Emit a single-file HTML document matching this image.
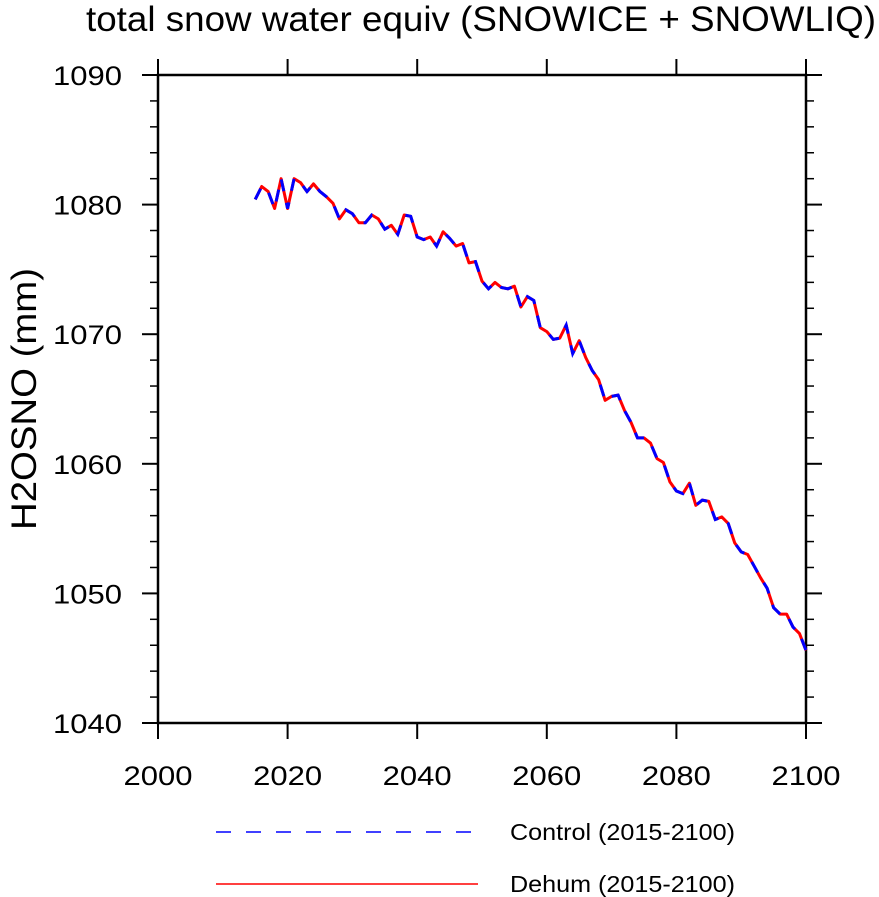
<!DOCTYPE html>
<html><head><meta charset="utf-8"><style>
html,body{margin:0;padding:0;background:#fff;}
svg{display:block;font-family:"Liberation Sans",Arial,sans-serif;}
</style></head><body>
<svg id="chart" width="879" height="897" viewBox="0 0 879 897">
<text x="86" y="31" font-size="35" textLength="790" lengthAdjust="spacingAndGlyphs">total snow water equiv (SNOWICE + SNOWLIQ)</text>
<text transform="translate(36,399) rotate(-90)" text-anchor="middle" font-size="35" textLength="262" lengthAdjust="spacingAndGlyphs">H2OSNO  (mm)</text>
<g id="axes"></g>
<g id="series"></g>
<g>
<line x1="216" y1="832" x2="478" y2="832" stroke="#0000ff" stroke-width="1.5" stroke-dasharray="15,15"/>
<text x="510" y="840" font-size="23" textLength="225" lengthAdjust="spacingAndGlyphs">Control (2015-2100)</text>
<line x1="216" y1="884" x2="478" y2="884" stroke="#ff0000" stroke-width="1.5"/>
<text x="510" y="892" font-size="23" textLength="225" lengthAdjust="spacingAndGlyphs">Dehum (2015-2100)</text>
</g>
</svg>
<script>
const years = [];
for (let y = 2015; y <= 2100; y++) years.push(y);
const controlValues = [1080.4,1081.4,1081.0,1079.7,1082.0,1079.7,1082.0,1081.7,1081.0,1081.6,
1081.0,1080.6,1080.1,1078.9,1079.6,1079.3,1078.6,1078.6,1079.2,1078.9,
1078.1,1078.4,1077.7,1079.2,1079.1,1077.5,1077.3,1077.5,1076.8,1077.9,
1077.4,1076.8,1077.0,1075.5,1075.6,1074.1,1073.5,1074.0,1073.6,1073.5,
1073.7,1072.1,1072.9,1072.6,1070.5,1070.2,1069.6,1069.7,1070.7,1068.5,
1069.5,1068.2,1067.2,1066.5,1064.9,1065.2,1065.3,1064.1,1063.2,1062.0,
1062.0,1061.6,1060.4,1060.1,1058.6,1057.9,1057.7,1058.5,1056.8,1057.2,
1057.1,1055.7,1055.9,1055.4,1053.9,1053.2,1053.0,1052.1,1051.2,1050.4,
1048.9,1048.4,1048.4,1047.4,1046.9,1045.6];
const dehumValues = controlValues.slice();
const xTicks = [2000,2020,2040,2060,2080,2100];
const yTicks = [1040,1050,1060,1070,1080,1090];

const X0=158, X1=806, Y0=723, Y1=75;
const xs = v => X0 + (v-2000)/100*(X1-X0);
const ys = v => Y0 - (v-1040)/50*(Y0-Y1);
const NS='http://www.w3.org/2000/svg';
const axes=document.getElementById('axes');
function mk(tag, attrs, parent){const e=document.createElementNS(NS,tag);for(const k in attrs)e.setAttribute(k,attrs[k]);parent.appendChild(e);return e;}

const frame=mk('rect',{x:X0,y:Y1,width:X1-X0,height:Y0-Y1,fill:'none',stroke:'#000','stroke-width':2.5},axes);



xTicks.forEach(t=>{
  const x=xs(t);
  const a=mk('line',{x1:x,y1:Y0,x2:x,y2:Y0+16,stroke:'#000','stroke-width':2},axes);
  
  
  const b=mk('line',{x1:x,y1:Y1,x2:x,y2:Y1-16,stroke:'#000','stroke-width':2},axes);
  
  
  const tx=mk('text',{x:x,y:Y0+62,'text-anchor':'middle','font-size':27,textLength:69,lengthAdjust:'spacingAndGlyphs'},axes);
  tx.textContent=t;
  
  
});
for(let v=1040; v<=1090; v+=2){
  const y=ys(v); const major=(v%10===0); const len=major?16:8;
  const a=mk('line',{x1:X0-len,y1:y,x2:X0,y2:y,stroke:'#000','stroke-width':major?2:1.5},axes);
  
  
  const b=mk('line',{x1:X1,y1:y,x2:X1+len,y2:y,stroke:'#000','stroke-width':major?2:1.5},axes);
  
  
}
yTicks.forEach(t=>{
  const tx=mk('text',{x:122,y:ys(t)+10,'text-anchor':'end','font-size':27,textLength:69,lengthAdjust:'spacingAndGlyphs'},axes);
  tx.textContent=t;
  
  
});

const series=document.getElementById('series');
const pts = vals => vals.map((v,i)=>xs(years[i]).toFixed(1)+','+ys(v).toFixed(1)).join(' ');
const red=mk('polyline',{points:pts(dehumValues),fill:'none',stroke:'#ff0000','stroke-width':3,'stroke-linejoin':'round'},series);


const blue=mk('polyline',{points:pts(controlValues),fill:'none',stroke:'#0000ff','stroke-width':3,'stroke-dasharray':'12,12'},series);


</script>
</body></html>
